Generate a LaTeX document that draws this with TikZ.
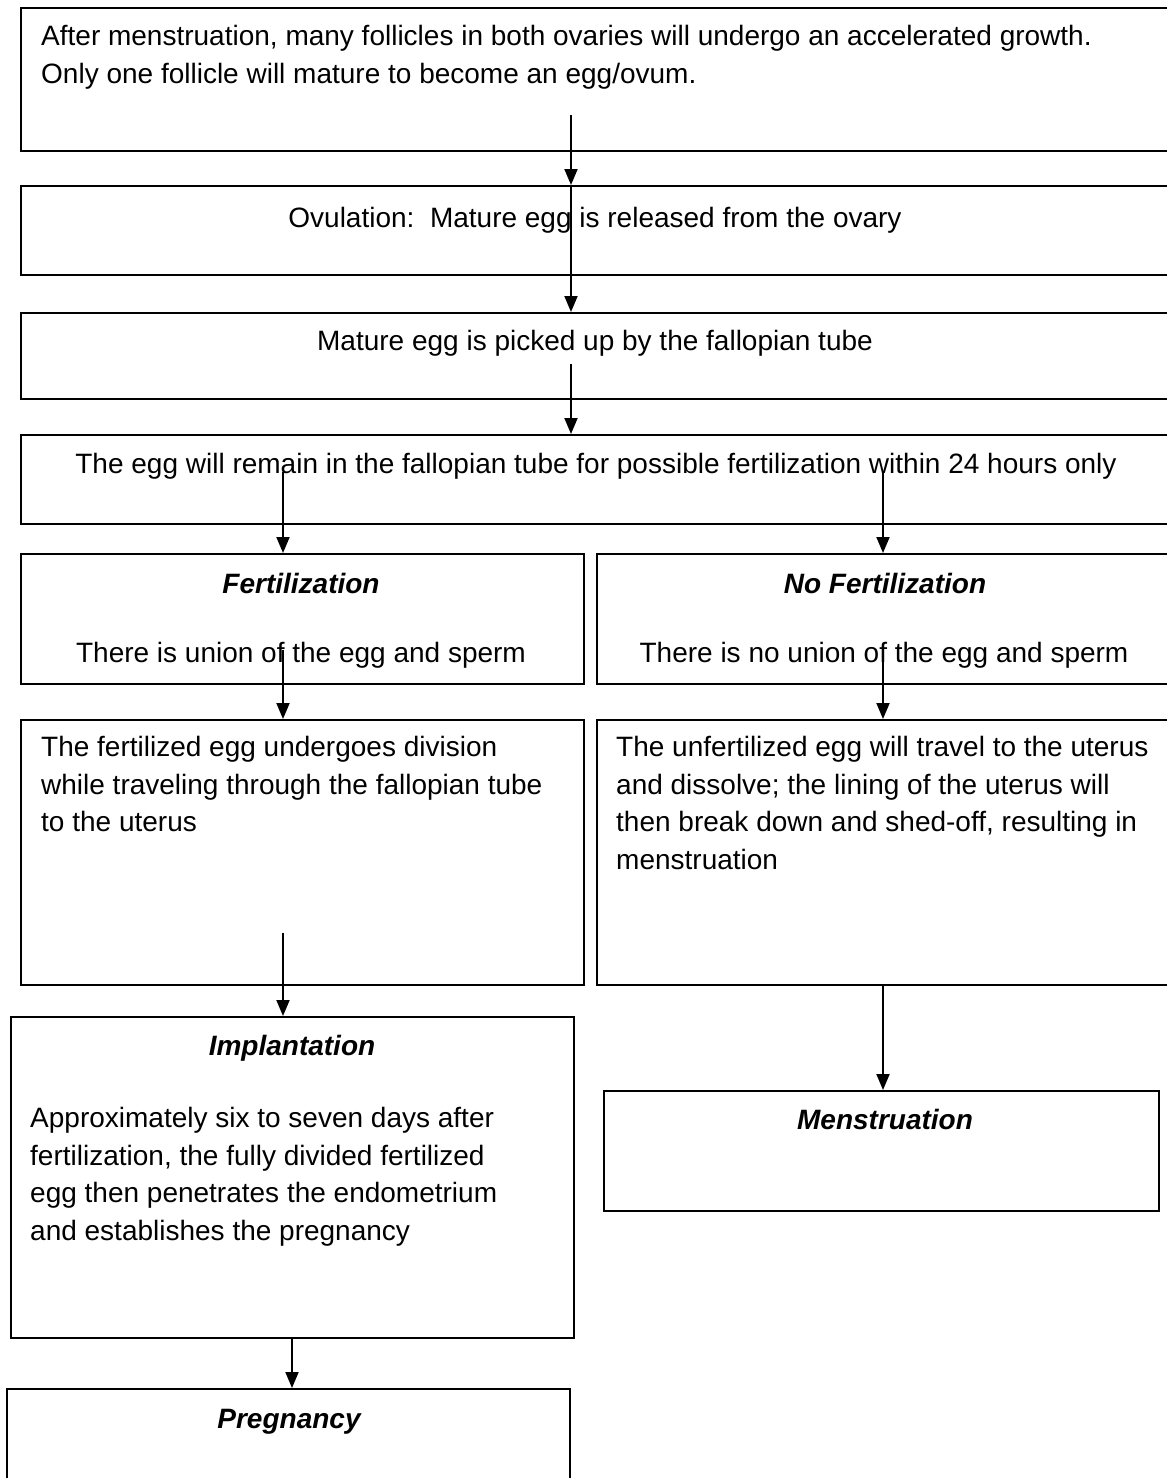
\documentclass[tikz,border=0pt]{standalone}
\usepackage{fontspec}
\setmainfont{Liberation Sans}
\usetikzlibrary{arrows.meta}
\tikzset{
 box/.style={draw, line width=2.4pt, rectangle, anchor=north west, inner sep=0},
 txt/.style={inner sep=0, font=\fontsize{28}{37.5}\selectfont, align=left},
 one/.style={inner sep=0, font=\fontsize{28}{34}\selectfont},
 head/.style={inner sep=0, font=\fontsize{28}{34}\selectfont\bfseries\itshape},
 arr/.style={line width=1.9pt, -{Triangle[length=16pt,width=13pt]}},
}
\begin{document}
\begin{tikzpicture}[x=1pt,y=-1pt]
\useasboundingbox (0,0) rectangle (1167,1478);
\clip (0,0) rectangle (1167,1478);
\fill[white] (0,0) rectangle (1167,1478);
% boxes
\node[box, minimum width=1160, minimum height=143] (b1) at (20,7) {};
\node[box, minimum width=1160, minimum height=89] (b2) at (20,185) {};
\node[box, minimum width=1160, minimum height=86] (b3) at (20,312) {};
\node[box, minimum width=1160, minimum height=89] (b4) at (20,434) {};
\node[box, minimum width=563, minimum height=130] (b5L) at (20,553) {};
\node[box, minimum width=580, minimum height=130] (b5R) at (596,553) {};
\node[box, minimum width=563, minimum height=265] (b6L) at (20,719) {};
\node[box, minimum width=580, minimum height=265] (b6R) at (596,719) {};
\node[box, minimum width=563, minimum height=321] (b7L) at (10,1016) {};
\node[box, minimum width=555, minimum height=120] (b7R) at (603,1090) {};
\node[box, minimum width=563, minimum height=120] (b8) at (6,1388) {};
% texts
\node[txt, anchor=north west] (t1) at (41,25.5) {After menstruation, many follicles in both ovaries will undergo an accelerated growth.\\Only one follicle will mature to become an egg/ovum.};
\node[one, anchor=base] (t2) at (595,227) {Ovulation:\ \ Mature egg is released from the ovary};
\node[one, anchor=base] (t3) at (595,350) {Mature egg is picked up by the fallopian tube};
\node[one, anchor=base] (t4) at (596,473) {The egg will remain in the fallopian tube for possible fertilization within 24 hours only};
\node[head, anchor=base] (h5L) at (301,593) {Fertilization};
\node[one, anchor=base] (t5L) at (301,662) {There is union of the egg and sperm};
\node[head, anchor=base] (h5R) at (885,593) {No Fertilization};
\node[one, anchor=base] (t5R) at (884,662) {There is no union of the egg and sperm};
\node[txt, anchor=north west] (t6L) at (41,736) {The fertilized egg undergoes division\\while traveling through the fallopian tube\\to the uterus};
\node[txt, anchor=north west] (t6R) at (616,736) {The unfertilized egg will travel to the uterus\\and dissolve; the lining of the uterus will\\then break down and shed-off, resulting in\\menstruation};
\node[head, anchor=base] (h7L) at (292,1055) {Implantation};
\node[txt, anchor=north west] (t7L) at (30,1107) {Approximately six to seven days after\\fertilization, the fully divided fertilized\\egg then penetrates the endometrium\\and establishes the pregnancy};
\node[head, anchor=base] (h7R) at (885,1129) {Menstruation};
\node[head, anchor=base] (h8) at (289,1428) {Pregnancy};
% arrows
\coordinate (s1) at (571,115);
\coordinate (s2) at (571,186);
\coordinate (s3) at (571,364);
\coordinate (s4L) at (283,472);
\coordinate (s4R) at (883,472);
\coordinate (s5L) at (283,650);
\coordinate (s5R) at (883,650);
\coordinate (s6L) at (283,933);
\coordinate (s6R) at (883,984);
\coordinate (s7) at (292,1337);
\draw[arr] (s1) -- (s1 |- b2.north);
\draw[arr] (s2) -- (s2 |- b3.north);
\draw[arr] (s3) -- (s3 |- b4.north);
\draw[arr] (s4L) -- (s4L |- b5L.north);
\draw[arr] (s4R) -- (s4R |- b5R.north);
\draw[arr] (s5L) -- (s5L |- b6L.north);
\draw[arr] (s5R) -- (s5R |- b6R.north);
\draw[arr] (s6L) -- (s6L |- b7L.north);
\draw[arr] (s6R) -- (s6R |- b7R.north);
\draw[arr] (s7) -- (s7 |- b8.north);
\end{tikzpicture}
\end{document}
